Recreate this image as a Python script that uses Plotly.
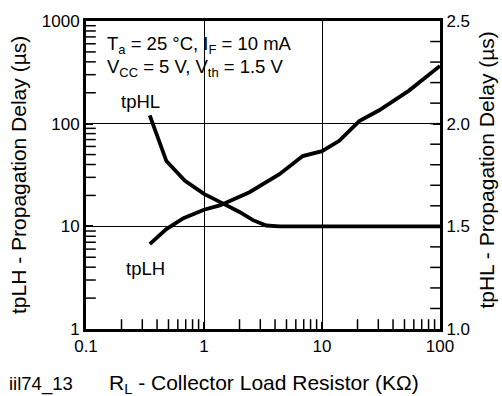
import plotly.graph_objects as go

# Data
rl_lh = [0.347, 0.48, 0.67, 1.0, 1.36, 2.43, 4.36, 6.87, 10, 14, 20.7, 30.5, 54.6, 100]
tplh = [6.7, 9.4, 12.0, 14.5, 16.0, 21.5, 32.2, 48.3, 54, 68, 106, 135, 210, 365]

rl_hl = [0.347, 0.48, 0.69, 1.0, 1.36, 2.0, 2.6, 3.37, 4.36, 10, 100]
tphl = [2.04, 1.818, 1.722, 1.658, 1.619, 1.570, 1.530, 1.504, 1.50, 1.50, 1.50]

x_range = [0.1, 100]
y_range = [1, 1000]
x_ticks = [0.1, 1, 10, 100]
y_ticks = [1, 10, 100, 1000]
y2_range = [1.0, 2.5]
y2_step = 0.5
y2_minor_step = 0.1

FONT = "Liberation Sans, Arial, Helvetica, sans-serif"
L, R, T, B = 86, 62, 16, 67
W, H = 502, 396
PW, PH = W - L - R, H - T - B

def px(xp):
    return (xp - L) / PW

def py(yp):
    return (H - B - yp) / PH

log_minor = lambda lo, hi: [m * 10 ** e for e in range(lo, hi) for m in range(2, 10)]
x_minor = log_minor(-1, 2)
y_minor = log_minor(0, 3)
n2 = round((y2_range[1] - y2_range[0]) / y2_minor_step)
y2_minor = [round(y2_range[0] + i * y2_minor_step, 2) for i in range(1, n2)]

TICKFONT = dict(family=FONT, size=17, color="black")
TK = dict(ticks="inside", ticklen=7, tickcolor="black", tickwidth=1.5)

fig = go.Figure()
fig.add_trace(go.Scatter(x=rl_lh, y=tplh, mode="lines",
                         line=dict(color="black", width=3.8), yaxis="y"))
fig.add_trace(go.Scatter(x=rl_hl, y=tphl, mode="lines",
                         line=dict(color="black", width=3.8), yaxis="y2"))

# minor tick marks along the frame (inner half visible, outer half clipped)
tick_marker_v = dict(symbol="line-ns-open", size=14, color="black", line=dict(color="black", width=1.5))
tick_marker_h = dict(symbol="line-ew-open", size=14, color="black", line=dict(color="black", width=1.5))
fig.add_trace(go.Scatter(x=x_minor, y=[y_range[0]] * len(x_minor), mode="markers",
                         marker=tick_marker_v, cliponaxis=True, hoverinfo="skip", yaxis="y"))
fig.add_trace(go.Scatter(x=[x_range[0]] * len(y_minor), y=y_minor, mode="markers",
                         marker=tick_marker_h, cliponaxis=True, hoverinfo="skip", yaxis="y"))
fig.add_trace(go.Scatter(x=[x_range[1]] * len(y2_minor), y=y2_minor, mode="markers",
                         marker=tick_marker_h, cliponaxis=True, hoverinfo="skip", yaxis="y2"))

fig.update_layout(
    width=W, height=H, showlegend=False,
    margin=dict(l=L, r=R, t=T, b=B, pad=0),
    paper_bgcolor="white", plot_bgcolor="white",
    xaxis=dict(type="log", range=[-1, 2], tickmode="array", tickvals=x_ticks,
               showline=True, linewidth=3, linecolor="black", mirror=True,
               showgrid=True, gridcolor="black", tickfont=TICKFONT, **TK),
    yaxis=dict(type="log", range=[0, 3], tickmode="array", tickvals=y_ticks,
               showline=True, linewidth=3, linecolor="black",
               showgrid=True, gridcolor="black", tickfont=TICKFONT, **TK),
    yaxis2=dict(overlaying="y", side="right", range=y2_range, tickmode="linear",
                tick0=y2_range[0], dtick=y2_step, tickformat=".1f",
                showline=True, linewidth=3, linecolor="black", showgrid=False,
                tickfont=TICKFONT, **TK),
)

ann_font = dict(family=FONT, size=18.5, color="black")
title_font = dict(family=FONT, size=21, color="black")
anns = [
    dict(x=px(105), y=py(40), text="T<sub>a</sub> = 25 °C, I<sub>F</sub> = 10 mA",
         xanchor="left", yanchor="middle", font=ann_font),
    dict(x=px(105), y=py(64), text="V<sub>CC</sub> = 5 V, V<sub>th</sub> = 1.5 V",
         xanchor="left", yanchor="middle", font=ann_font),
    dict(x=px(140), y=py(98), text="tpHL", xanchor="center", yanchor="middle", font=ann_font),
    dict(x=px(145), y=py(268), text="tpLH", xanchor="center", yanchor="middle", font=ann_font),
    dict(x=px(18), y=py(172.5), text="tpLH - Propagation Delay (µs)", textangle=-90,
         xanchor="center", yanchor="middle", font=title_font),
    dict(x=px(487), y=py(168), text="tpHL - Propagation Delay (µs)", textangle=-90,
         xanchor="center", yanchor="middle", font=title_font),
    dict(x=px(264), y=py(385), text="R<sub>L</sub> - Collector Load Resistor (KΩ)",
         xanchor="center", yanchor="middle", font=title_font),
    dict(x=px(41), y=py(385), text="iil74_13", xanchor="center", yanchor="middle", font=ann_font),
]
for a in anns:
    a.update(xref="paper", yref="paper", showarrow=False)
fig.update_layout(annotations=anns)

fig.write_html("out.html")
